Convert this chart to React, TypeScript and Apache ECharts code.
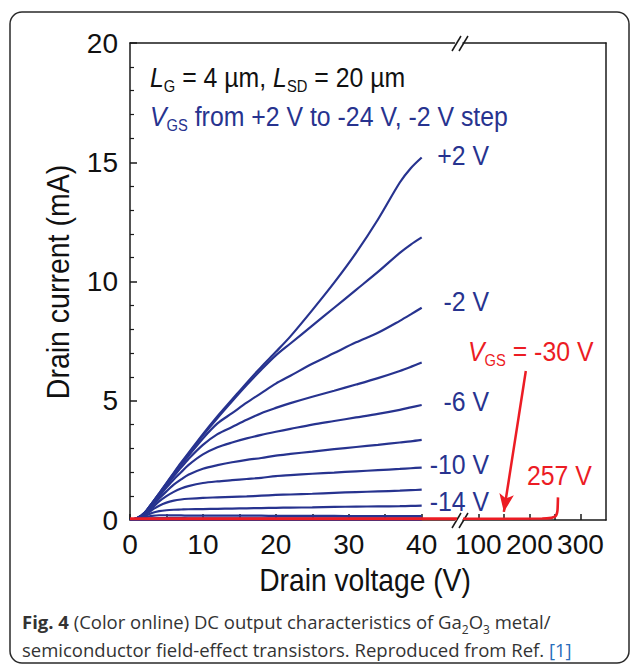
import React, { useEffect, useRef } from "react";
import * as echarts from "echarts";

// Drain voltage samples (V) for the VGS sweep
const VD = [0, 1, 2, 3, 4, 5, 6, 7, 8, 10, 12, 14, 16, 18, 20, 22, 25, 28, 31, 34, 37, 38.5, 40];

// Drain current (mA) for VGS = +2 ... -24 V (step -2 V)
const ID_P2 = [0, 0.08, 0.3, 0.7, 1.12, 1.55, 1.98, 2.4, 2.8, 3.6, 4.35, 5.05, 5.75, 6.42, 7.05, 7.7, 8.8, 9.95, 11.2, 12.6, 14.15, 14.75, 15.2];
const ID_0 = [0, 0.08, 0.3, 0.7, 1.11, 1.53, 1.95, 2.36, 2.76, 3.55, 4.28, 4.98, 5.66, 6.3, 6.9, 7.4, 8.15, 8.9, 9.65, 10.4, 11.2, 11.55, 11.85];
const ID_M2 = [0, 0.08, 0.3, 0.69, 1.09, 1.5, 1.9, 2.3, 2.68, 3.42, 4.05, 4.48, 4.92, 5.32, 5.72, 6.05, 6.55, 7.0, 7.45, 7.85, 8.35, 8.62, 8.9];
const ID_M4 = [0, 0.08, 0.29, 0.67, 1.06, 1.45, 1.83, 2.2, 2.55, 3.15, 3.6, 3.9, 4.2, 4.48, 4.7, 4.9, 5.17, 5.42, 5.68, 5.95, 6.25, 6.42, 6.6];
const ID_M6 = [0, 0.08, 0.28, 0.64, 1.0, 1.36, 1.7, 2.0, 2.3, 2.75, 3.05, 3.25, 3.42, 3.57, 3.7, 3.82, 4.0, 4.15, 4.3, 4.45, 4.62, 4.72, 4.82];
const ID_M8 = [0, 0.07, 0.26, 0.58, 0.9, 1.2, 1.48, 1.7, 1.9, 2.15, 2.3, 2.42, 2.52, 2.6, 2.7, 2.77, 2.87, 2.97, 3.06, 3.15, 3.25, 3.3, 3.36];
const ID_M10 = [0, 0.07, 0.24, 0.5, 0.78, 1.0, 1.18, 1.32, 1.42, 1.55, 1.62, 1.67, 1.72, 1.77, 1.84, 1.88, 1.94, 1.99, 2.04, 2.09, 2.14, 2.17, 2.2];
const ID_M12 = [0, 0.06, 0.2, 0.42, 0.6, 0.73, 0.81, 0.86, 0.89, 0.93, 0.95, 0.97, 0.99, 1.02, 1.05, 1.07, 1.1, 1.14, 1.17, 1.2, 1.23, 1.25, 1.27];
const ID_M14 = [0, 0.05, 0.16, 0.29, 0.37, 0.41, 0.43, 0.44, 0.45, 0.46, 0.47, 0.48, 0.49, 0.5, 0.51, 0.52, 0.53, 0.55, 0.56, 0.57, 0.58, 0.59, 0.6];
const ID_M16 = [0, 0.04, 0.11, 0.17, 0.2, 0.2, 0.19, 0.19, 0.18, 0.18, 0.18, 0.18, 0.18, 0.18, 0.17, 0.17, 0.17, 0.17, 0.16, 0.16, 0.16, 0.16, 0.16];
const ID_M18 = [0, 0.02, 0.05, 0.07, 0.08, 0.08, 0.08, 0.08, 0.07, 0.07, 0.07, 0.07, 0.07, 0.07, 0.07, 0.07, 0.07, 0.07, 0.07, 0.07, 0.07, 0.07, 0.07];
const ID_M20 = [0, 0.01, 0.03, 0.04, 0.04, 0.04, 0.04, 0.04, 0.04, 0.04, 0.04, 0.04, 0.04, 0.04, 0.04, 0.04, 0.04, 0.04, 0.04, 0.04, 0.04, 0.04, 0.04];
const ID_M22 = [0, 0.01, 0.02, 0.02, 0.02, 0.02, 0.02, 0.02, 0.02, 0.02, 0.02, 0.02, 0.02, 0.02, 0.02, 0.02, 0.02, 0.02, 0.02, 0.02, 0.02, 0.02, 0.02];
const ID_M24 = [0, 0, 0.01, 0.01, 0.01, 0.01, 0.01, 0.01, 0.01, 0.01, 0.01, 0.01, 0.01, 0.01, 0.01, 0.01, 0.01, 0.01, 0.01, 0.01, 0.01, 0.01, 0.01];
const BLUE_CURVES = [ID_P2, ID_0, ID_M2, ID_M4, ID_M6, ID_M8, ID_M10, ID_M12, ID_M14, ID_M16, ID_M18, ID_M20, ID_M22, ID_M24];
const VGS_NAMES = ["+2 V", "0 V", "-2 V", "-4 V", "-6 V", "-8 V", "-10 V", "-12 V", "-14 V", "-16 V", "-18 V", "-20 V", "-22 V", "-24 V"];

// VGS = -30 V curve (off state up to breakdown at 257 V)
const RED_L_V = [0, 45.7];
const RED_L_I = [0.05, 0.05];
const RED_R_V = [70, 225, 243, 250, 253, 255, 256];
const RED_R_I = [0.05, 0.06, 0.09, 0.14, 0.22, 0.4, 0.95];
const ARROW_FROM = [193, 6.25];
const ARROW_TO = [150, 0.34];

// Axis ticks
const X_LEFT_TICKS = [0, 5, 10, 15, 20, 25, 30, 35, 40];
const X_LEFT_LABELS = [0, 10, 20, 30, 40];
const X_RIGHT_TICKS = [100, 150, 200, 250, 300];
const X_RIGHT_LABELS = [100, 200, 300];

// Curve labels
const CURVE_LABELS = ["+2 V", "-2 V", "-6 V", "-10 V", "-14 V"];

const FONT = "'Liberation Sans', Arial, Helvetica, sans-serif";
const CAP_FONT = "'Open Sans', 'Noto Sans', sans-serif";
const BLUE = "#27338f";
const RED = "#ec1c24";
const AX = "#1a1a1a";

export default function App() {
  const ref = useRef<HTMLDivElement>(null);
  useEffect(() => {
    const chart = echarts.init(ref.current!, null, { renderer: "svg" });
    const axisLine = { show: true, onZero: false, lineStyle: { color: AX, width: 1.5 } };
    const hidden = { show: false };
    const blueSeries = BLUE_CURVES.map((c, k) => ({
      name: VGS_NAMES[k],
      type: "line",
      xAxisIndex: 0,
      yAxisIndex: 0,
      data: VD.map((v, i) => [v, c[i]]),
      showSymbol: false,
      smooth: 0.3,
      lineStyle: { color: BLUE, width: 2.2 },
      z: 2,
    }));
    const bigText = (text: string, x: number, y: number, color: string, align = "left") => ({
      type: "text",
      x,
      y,
      scaleX: 0.92,
      style: {
        text,
        fill: color,
        fontFamily: FONT,
        fontSize: 27,
        align,
        textAlign: align,
        verticalAlign: "middle",
        textVerticalAlign: "middle",
        rich: {
          i: { fontStyle: "italic", fontSize: 27, lineHeight: 32, fontFamily: FONT, fill: color },
          n: { fontSize: 27, lineHeight: 32, fontFamily: FONT, fill: color },
          s: { fontSize: 16, lineHeight: 14, verticalAlign: "bottom", fontFamily: FONT, fill: color },
        },
      },
    });
    const labelYs = [156, 302, 402, 465, 502];
    const option: any = {
      animation: false,
      backgroundColor: "#ffffff",
      grid: [
        { left: 130, top: 43, width: 324.5, height: 477 },
        { left: 463, top: 43, width: 143, height: 477 },
      ],
      xAxis: [
        {
          type: "value", gridIndex: 0, min: 0, max: 44.5, position: "bottom",
          axisLine,
          axisTick: { show: true, inside: true, length: 6, customValues: X_LEFT_TICKS, lineStyle: { color: AX, width: 1.5 } },
          axisLabel: { show: true, customValues: X_LEFT_LABELS, margin: 10, color: "#111", fontSize: 28, fontFamily: FONT },
          splitLine: hidden,
        },
        {
          type: "value", gridIndex: 1, min: 70, max: 350, position: "bottom",
          axisLine,
          axisTick: { show: true, inside: true, length: 6, customValues: X_RIGHT_TICKS, lineStyle: { color: AX, width: 1.5 } },
          axisLabel: { show: true, customValues: X_RIGHT_LABELS, margin: 10, color: "#111", fontSize: 28, fontFamily: FONT },
          splitLine: hidden,
        },
        { type: "value", gridIndex: 0, min: 0, max: 44.5, position: "top", axisLine, axisTick: hidden, axisLabel: hidden, splitLine: hidden },
        { type: "value", gridIndex: 1, min: 70, max: 350, position: "top", axisLine, axisTick: hidden, axisLabel: hidden, splitLine: hidden },
      ],
      yAxis: [
        {
          type: "value", gridIndex: 0, min: 0, max: 20, interval: 5, position: "left",
          axisLine,
          axisTick: { show: true, inside: true, length: 7, lineStyle: { color: AX, width: 1.5 } },
          minorTick: { show: true, splitNumber: 5, length: 4, lineStyle: { color: AX, width: 1.2 } },
          axisLabel: { show: true, margin: 12, color: "#111", fontSize: 28, fontFamily: FONT },
          splitLine: hidden,
          minorSplitLine: hidden,
        },
        {
          type: "value", gridIndex: 1, min: 0, max: 20, position: "right",
          axisLine, axisTick: hidden, axisLabel: hidden, splitLine: hidden,
        },
      ],
      series: [
        ...blueSeries,
        {
          name: "VGS = -30 V (0-40 V)",
          type: "line", xAxisIndex: 0, yAxisIndex: 0,
          data: RED_L_V.map((v, i) => [v, RED_L_I[i]]),
          showSymbol: false, clip: false,
          lineStyle: { color: RED, width: 3 }, z: 3,
        },
        {
          name: "VGS = -30 V (100-300 V)",
          type: "line", xAxisIndex: 1, yAxisIndex: 1,
          data: RED_R_V.map((v, i) => [v, RED_R_I[i]]),
          showSymbol: false, smooth: 0.2,
          lineStyle: { color: RED, width: 2.6 }, z: 3,
          markLine: {
            silent: true,
            symbol: ["none", "arrow"],
            symbolSize: [11, 18],
            label: { show: false },
            lineStyle: { color: RED, width: 2.5, type: "solid" },
            data: [[{ coord: ARROW_FROM }, { coord: ARROW_TO }]],
          },
        },
      ],
      graphic: [
        {
          type: "rect", shape: { x: 10, y: 12, width: 619, height: 651, r: 12 },
          style: { fill: "none", stroke: "#2a2a2a", lineWidth: 1.5 }, z: -1, silent: true,
        },
        // axis break marks
        { type: "line", shape: { x1: 452, y1: 528, x2: 461, y2: 513 }, style: { stroke: AX, lineWidth: 1.5 } },
        { type: "line", shape: { x1: 459, y1: 528, x2: 468, y2: 513 }, style: { stroke: AX, lineWidth: 1.5 } },
        { type: "line", shape: { x1: 452, y1: 51, x2: 461, y2: 36 }, style: { stroke: AX, lineWidth: 1.5 } },
        { type: "line", shape: { x1: 459, y1: 51, x2: 468, y2: 36 }, style: { stroke: AX, lineWidth: 1.5 } },
        bigText("{i|L}{s|G}{n| = 4 µm, }{i|L}{s|SD}{n| = 20 µm}", 150, 78, "#111"),
        bigText("{i|V}{s|GS}{n| from +2 V to -24 V, -2 V step}", 150, 117, BLUE),
        ...CURVE_LABELS.map((t, k) => bigText(`{n|${t}}`, 489, labelYs[k], BLUE, "right")),
        bigText("{i|V}{s|GS}{n| = -30 V}", 468, 352, RED),
        bigText("{n|257 V}", 527, 476, RED),
        {
          type: "text", x: 365, y: 580, scaleX: 0.91,
          style: { text: "Drain voltage (V)", fill: "#111", fontFamily: FONT, fontSize: 31, align: "center", textAlign: "center", verticalAlign: "middle", textVerticalAlign: "middle" },
        },
        {
          type: "text", x: 58, y: 282, rotation: Math.PI / 2, scaleX: 0.92,
          style: { text: "Drain current (mA)", fill: "#111", fontFamily: FONT, fontSize: 31, align: "center", textAlign: "center", verticalAlign: "middle", textVerticalAlign: "middle" },
        },
        {
          type: "text", x: 22, y: 607,
          style: {
            text: "{b|Fig. 4} {r|(Color online) DC output characteristics of Ga}{s|2}{r|O}{s|3}{r| metal/}\n{r|semiconductor field-effect transistors. Reproduced from Ref. }{l|[1]}",
            fill: "#333", fontFamily: CAP_FONT, fontSize: 18.5, align: "left", textAlign: "left", verticalAlign: "top", textVerticalAlign: "top",
            rich: {
              b: { fontWeight: "bold", fontSize: 18.5, lineHeight: 28, fontFamily: CAP_FONT, fill: "#333" },
              r: { fontSize: 18.5, lineHeight: 28, fontFamily: CAP_FONT, fill: "#333" },
              s: { fontSize: 12, lineHeight: 13, verticalAlign: "bottom", fontFamily: CAP_FONT, fill: "#333" },
              l: { fontSize: 18.5, lineHeight: 28, fontFamily: CAP_FONT, fill: "#2a6ebb" },
            },
          },
        },
      ],
    };
    chart.setOption(option);
    return () => chart.dispose();
  }, []);
  return <div ref={ref} style={{ position: "fixed", left: 0, top: 0, width: 630, height: 670, background: "#fff" }} />;
}
